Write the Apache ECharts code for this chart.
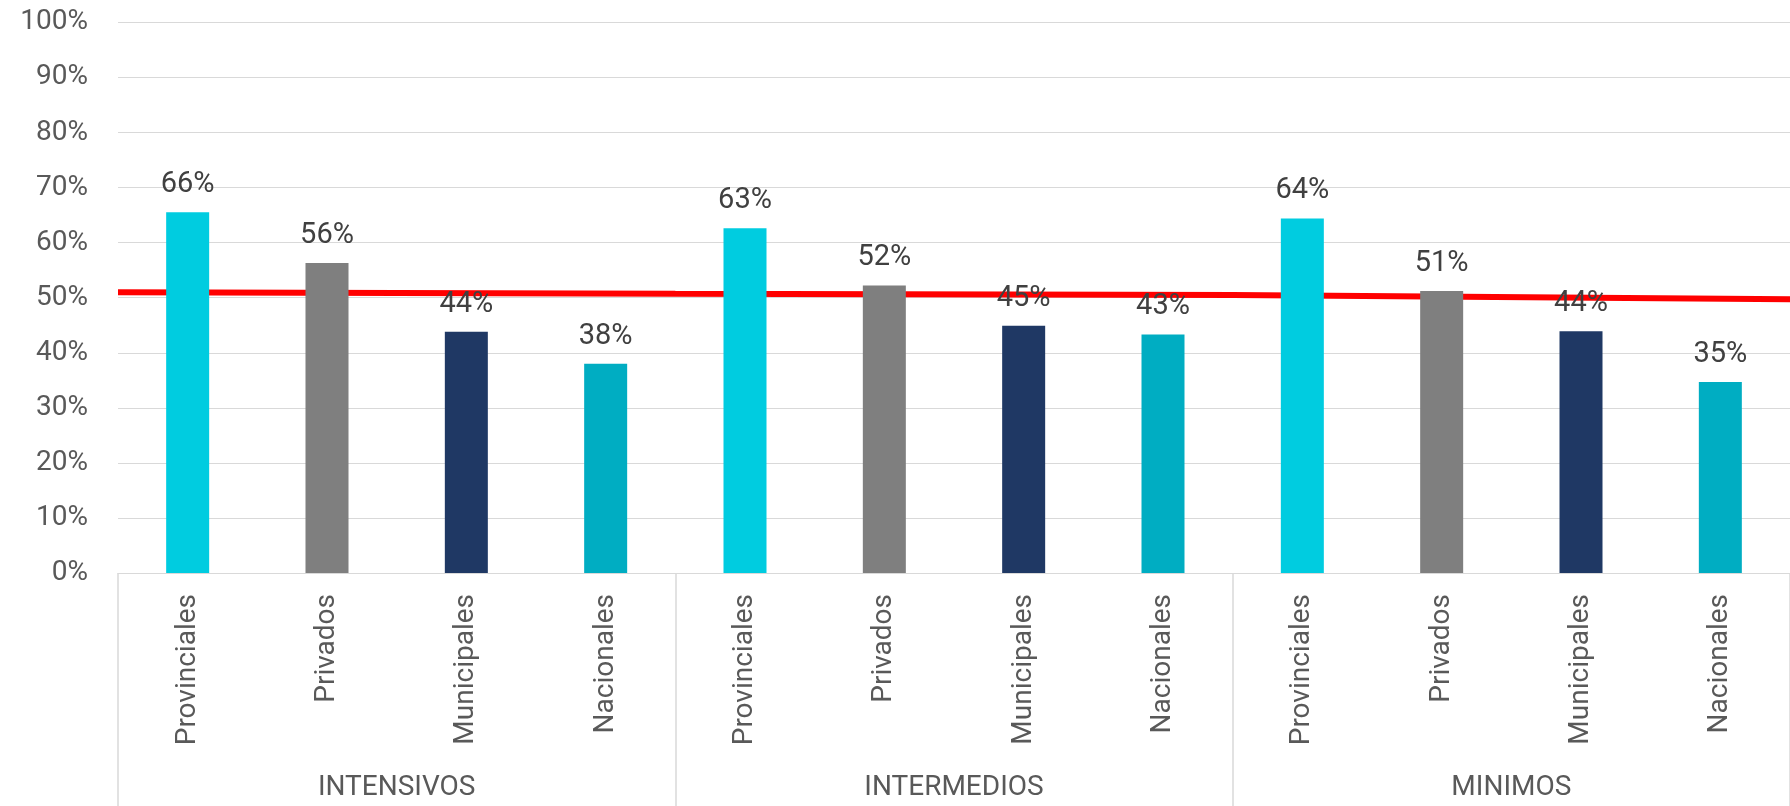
<!DOCTYPE html>
<html>
<head>
<meta charset="utf-8">
<script src="https://cdn.jsdelivr.net/npm/echarts@6/dist/echarts.min.js"></script>
<style>
html,body{margin:0;padding:0;background:#fff;overflow:hidden;}
#chart{width:1790px;height:806px;}
</style>
</head>
<body>
<div id="chart"></div>
<script>
// ---- data ----
var categories = ['Provinciales','Privados','Municipales','Nacionales',
                  'Provinciales','Privados','Municipales','Nacionales',
                  'Provinciales','Privados','Municipales','Nacionales'];
var groups = ['INTENSIVOS','INTERMEDIOS','MINIMOS'];
var barValues = [65.5, 56.3, 43.8, 38.0, 62.6, 52.2, 44.9, 43.3, 64.4, 51.2, 43.9, 34.7];
// red reference line, read at the group boundaries
var lineValues = [51.0, 50.7, 50.5, 49.7];
var yTicks = [0,10,20,30,40,50,60,70,80,90,100];

// ---- styles ----
var palette = ['#00CCE0','#7F7F7F','#1F3864','#00ADC2'];
var FONT = 'Roboto';

var chart = echarts.init(document.getElementById('chart'));
chart.setOption({
  backgroundColor:'#ffffff',
  animation:false,
  grid:{left:118, width:1682, top:22.4, height:550.6, containLabel:false},
  xAxis:[
    {
      type:'category', data:categories, position:'bottom',
      axisLine:{show:true, lineStyle:{color:'#d9d9d9', width:1}},
      axisTick:{show:false},
      axisLabel:{interval:0, rotate:90, margin:21, fontSize:28, color:'#595959', fontFamily:FONT}
    },
    {
      type:'category', data:groups, position:'bottom',
      axisLine:{show:false},
      axisTick:{show:true, length:233, interval:0, lineStyle:{color:'#d9d9d9', width:1.5}},
      axisLabel:{interval:0, margin:201, fontSize:28, color:'#595959', fontFamily:FONT}
    },
    {
      type:'category', data:lineValues.map(function(_,i){return String(i);}),
      boundaryGap:false, show:false
    }
  ],
  yAxis:{
    type:'value', min:yTicks[0], max:yTicks[yTicks.length-1], interval:10,
    axisLine:{show:false}, axisTick:{show:false},
    axisLabel:{formatter:'{value}%', fontSize:28, color:'#595959', fontFamily:FONT, margin:30},
    splitLine:{lineStyle:{color:'#d9d9d9', width:1}}
  },
  series:[
    {
      type:'line', xAxisIndex:2, data:lineValues, symbol:'none', z:1,
      lineStyle:{color:'#FF0000', width:6}
    },
    {
      type:'bar', xAxisIndex:0, data:barValues, barWidth:43, z:2,
      itemStyle:{color:function(p){return palette[p.dataIndex % 4];}},
      label:{show:true, position:'top', distance:13, fontSize:29, color:'#404040', fontFamily:FONT,
        formatter:function(p){return Math.round(p.value)+'%';}}
    }
  ]
});
</script>
</body>
</html>
